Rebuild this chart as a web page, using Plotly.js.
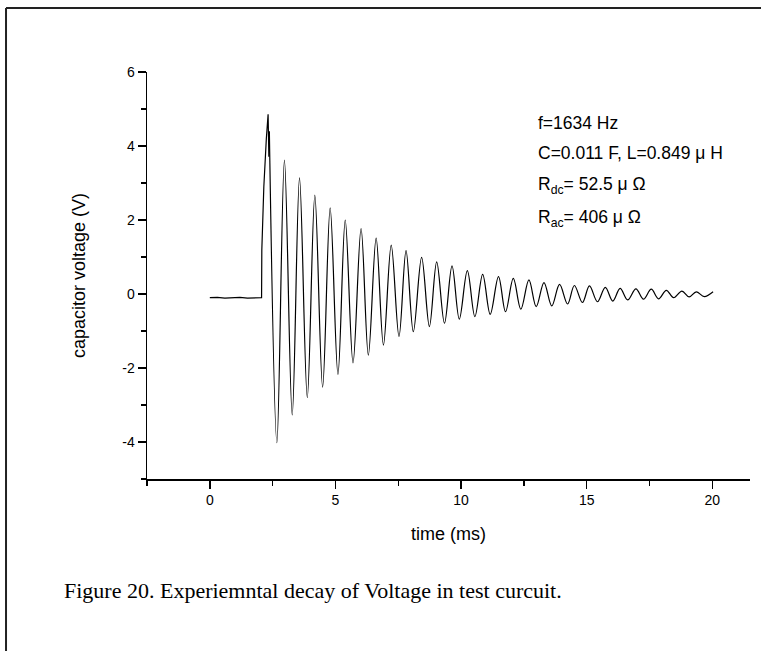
<!DOCTYPE html>
<html>
<head>
<meta charset="utf-8">
<script src="https://cdn.plot.ly/plotly-3.0.1.min.js"></script>
<style>
html,body{margin:0;padding:0;background:#fff;}
#chart{width:761px;height:651px;}
</style>
</head>
<body>
<div id="chart"></div>
<script>
// Pre-trigger baseline, jump and first spiky peak (time in ms, voltage in V)
const startTime = [0, 0.3, 0.6, 0.9, 1.2, 1.5, 1.8, 2.06, 2.07, 2.15, 2.25, 2.32, 2.35, 2.37];
const startVolt = [-0.1, -0.09, -0.11, -0.1, -0.09, -0.11, -0.1, -0.1, 1.19, 2.9, 4.2, 4.86, 3.71, 4.39];

// Ringing: successive extrema
const ringTime = [2.37, 2.67, 2.97, 3.28, 3.57, 3.88, 4.18, 4.49, 4.79, 5.10, 5.39, 5.70, 6.02, 6.31,
  6.62, 6.91, 7.22, 7.53, 7.81, 8.10, 8.43, 8.74, 9.03, 9.34, 9.64, 9.93, 10.25, 10.55, 10.86, 11.16,
  11.49, 11.77, 12.08, 12.38, 12.70, 12.99, 13.30, 13.61, 13.92, 14.24, 14.51, 14.83, 15.11, 15.43,
  15.74, 16.04, 16.33, 16.63, 16.96, 17.26, 17.57, 17.86, 18.17, 18.46, 18.79, 19.08, 19.36, 19.68, 20.03];
const ringVolt = [4.39, -4.02, 3.62, -3.27, 3.14, -2.80, 2.67, -2.52, 2.33, -2.17, 2.0, -1.86, 1.77, -1.65,
  1.51, -1.38, 1.32, -1.15, 1.17, -1.02, 0.99, -0.88, 0.87, -0.79, 0.76, -0.68, 0.63, -0.61, 0.53, -0.55,
  0.47, -0.48, 0.42, -0.41, 0.38, -0.34, 0.31, -0.32, 0.26, -0.27, 0.23, -0.23, 0.22, -0.21,
  0.18, -0.19, 0.15, -0.16, 0.14, -0.14, 0.13, -0.13, 0.10, -0.10, 0.08, -0.08, 0.06, -0.07, 0.06];

const xTickVals = [0, 5, 10, 15, 20];
const xTickText = ['0', '5', '10', '15', '20'];
const yTickVals = [-4, -2, 0, 2, 4, 6];
const yTickText = ['-4', '-2', '0', '2', '4', '6'];

const infoLines = [
  'f=1634 Hz',
  'C=0.011 F, L=0.849 \u03bc H',
  'R<sub>dc</sub>= 52.5 \u03bc \u03a9',
  'R<sub>ac</sub>= 406 \u03bc \u03a9'
];
const infoY = [4.62, 3.81, 2.92, 2.03];
const caption = 'Figure 20. Experiemntal decay of Voltage in test curcuit.';

const lineStyle = {color: '#000', width: 1.2};
const traces = [
  {x: startTime, y: startVolt, type: 'scatter', mode: 'lines', line: lineStyle, hoverinfo: 'skip'},
  {x: ringTime, y: ringVolt, type: 'scatter', mode: 'lines', line: Object.assign({shape: 'spline', smoothing: 1}, lineStyle), hoverinfo: 'skip'}
];

const sans = 'Liberation Sans, Arial, sans-serif';
const annotations = infoLines.map((t, i) => ({
  text: t, x: 12.99, y: infoY[i], xref: 'x', yref: 'y', xanchor: 'left', yanchor: 'middle',
  showarrow: false, font: {family: sans, size: 17.5, color: '#000'}
}));
annotations.push({
  text: caption, xref: 'paper', yref: 'paper', x: -0.141, y: -0.273, xanchor: 'left', yanchor: 'middle',
  showarrow: false, font: {family: 'Liberation Serif, Times New Roman, serif', size: 22, color: '#000'}
});

const axisFont = {family: sans, size: 14, color: '#000'};
const layout = {
  width: 761, height: 651,
  margin: {l: 147, r: 11, t: 72, b: 172, pad: 0},
  paper_bgcolor: '#fff', plot_bgcolor: '#fff',
  showlegend: false,
  xaxis: {
    range: [-2.5, 21.5], tickvals: xTickVals, ticktext: xTickText,
    showline: true, linecolor: '#000', linewidth: 1.5, zeroline: false, showgrid: false,
    ticks: 'outside', ticklen: 8, tickwidth: 1.5, tickcolor: '#000', tickfont: axisFont,
    minor: {dtick: 2.5, tick0: 0, ticks: 'outside', ticklen: 5, tickwidth: 1.5, tickcolor: '#000', showgrid: false},
    title: {text: 'time (ms)', font: {family: sans, size: 18, color: '#000'}, standoff: 20}
  },
  yaxis: {
    range: [-5, 6], tickvals: yTickVals, ticktext: yTickText,
    showline: true, linecolor: '#000', linewidth: 1.5, zeroline: false, showgrid: false,
    ticks: 'outside', ticklen: 8, tickwidth: 1.5, tickcolor: '#000', tickfont: axisFont,
    minor: {dtick: 1, tick0: 0, ticks: 'outside', ticklen: 5, tickwidth: 1.5, tickcolor: '#000', showgrid: false},
    title: {text: 'capacitor voltage (V)', font: {family: sans, size: 18, color: '#000'}, standoff: 32}
  },
  annotations: annotations,
  shapes: [
    {type: 'line', xref: 'paper', yref: 'paper', x0: -0.2338, x1: 1.05, y0: 1.1572, y1: 1.1572, line: {color: '#222', width: 2}},
    {type: 'line', xref: 'paper', yref: 'paper', x0: -0.2338, x1: -0.2338, y0: 1.1572, y1: -0.45, line: {color: '#222', width: 2}}
  ]
};

Plotly.newPlot('chart', traces, layout, {staticPlot: true, displayModeBar: false});
</script>
</body>
</html>
